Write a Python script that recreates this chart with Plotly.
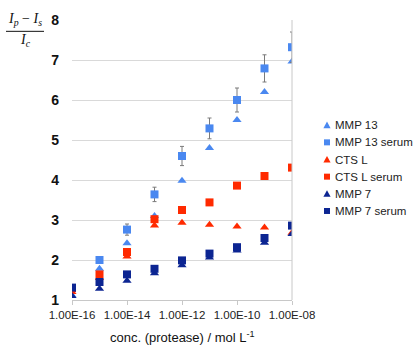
import plotly.graph_objects as go

conc = [1e-16, 1e-15, 1e-14, 1e-13, 1e-12, 1e-11, 1e-10, 1e-9, 1e-8]

mmp13 = [1.12, 1.78, 2.42, 3.10, 3.98, 4.80, 5.50, 6.20, 6.96]
mmp13_serum = [1.30, 2.00, 2.76, 3.64, 4.60, 5.29, 6.00, 6.79, 7.32]
mmp13_serum_err = [0.04, 0.06, 0.14, 0.18, 0.24, 0.26, 0.30, 0.34, 0.38]
ctsl = [1.20, 1.55, 2.09, 2.86, 2.93, 2.88, 2.84, 2.81, 2.68]
ctsl_serum = [1.30, 1.64, 2.20, 3.02, 3.25, 3.44, 3.86, 4.10, 4.31]
mmp7 = [1.10, 1.28, 1.48, 1.67, 1.87, 2.06, 2.24, 2.43, 2.65]
mmp7_serum = [1.31, 1.45, 1.64, 1.78, 1.99, 2.16, 2.32, 2.55, 2.86]

series_names = ["MMP 13", "MMP 13 serum", "CTS L", "CTS L serum", "MMP 7", "MMP 7 serum"]

tick_vals = [1e-16, 1e-14, 1e-12, 1e-10, 1e-8]
tick_text = ["1.00E-16", "1.00E-14", "1.00E-12", "1.00E-10", "1.00E-08"]
y_ticks = [1, 2, 3, 4, 5, 6, 7, 8]

LB = "#4a88f0"
RED = "#ff2a00"
NAVY = "#0c2592"

styles = [(LB, "triangle-up"), (LB, "square"), (RED, "triangle-up"),
          (RED, "square"), (NAVY, "triangle-up"), (NAVY, "square")]
values = [mmp13, mmp13_serum, ctsl, ctsl_serum, mmp7, mmp7_serum]
errors = [None, mmp13_serum_err, None, None, None, None]

fig = go.Figure()
for name, y, (color, symbol), err in zip(series_names, values, styles, errors):
    kw = {}
    if err is not None:
        kw["error_y"] = dict(type="data", array=err, visible=True, color="#7a7a7a",
                             thickness=1, width=2)
    fig.add_trace(go.Scatter(x=conc, y=y, name=name, mode="markers",
                             marker=dict(color=color, symbol=symbol, size=8,
                                         line=dict(width=0)), **kw))

# manual legend (tighter row spacing than plotly's built-in legend)
PLOT_L, PLOT_W, PLOT_B, PLOT_H = 72, 220, 300, 284
def px_x(p):
    return (p - PLOT_L) / PLOT_W
def px_y(p):
    return (PLOT_B - p) / PLOT_H

shapes = [dict(type="line", xref="paper", yref="paper", x0=1, x1=1, y0=0, y1=1,
               line=dict(color="#c8c8c8", width=1)),
          dict(type="line", xref="paper", yref="paper", x0=px_x(6), x1=px_x(44),
               y0=px_y(27.5), y1=px_y(27.5), line=dict(color="#111", width=1))]
annotations = [
    dict(text="conc. (protease) / mol L<sup>-1</sup>", xref="paper", yref="paper",
         x=0.5, y=px_y(338), xanchor="center", yanchor="middle", showarrow=False,
         font=dict(size=13, color="#111")),
    dict(text="<i>I</i><sub><i>p</i></sub> − <i>I</i><sub><i>s</i></sub>", xref="paper", yref="paper",
         x=px_x(25), y=px_y(15), xanchor="center", yanchor="middle", showarrow=False,
         font=dict(size=14, color="#111", family="Liberation Serif, Times New Roman, serif")),
    dict(text="<i>I</i><sub><i>c</i></sub>", xref="paper", yref="paper",
         x=px_x(25), y=px_y(37), xanchor="center", yanchor="middle", showarrow=False,
         font=dict(size=14, color="#111", family="Liberation Serif, Times New Roman, serif")),
]

for i, (name, (color, symbol)) in enumerate(zip(series_names, styles)):
    yc = 122.7 + 17.4 * i
    if symbol == "square":
        shapes.append(dict(type="rect", xref="paper", yref="paper",
                           xsizemode="pixel", ysizemode="pixel",
                           xanchor=px_x(327), yanchor=px_y(yc),
                           x0=-3, x1=3, y0=-3, y1=3,
                           fillcolor=color, line=dict(width=0)))
    else:
        shapes.append(dict(type="path", xref="paper", yref="paper",
                           xsizemode="pixel", ysizemode="pixel",
                           xanchor=px_x(327), yanchor=px_y(yc),
                           path="M-3.6,-3 L3.6,-3 L0,3.6 Z",
                           fillcolor=color, line=dict(width=0)))
    annotations.append(dict(text=name, xref="paper", yref="paper",
                            x=px_x(333), y=px_y(yc), xanchor="left", yanchor="middle",
                            showarrow=False, font=dict(size=11.5, color="#222")))

fig.update_layout(
    width=420, height=352,
    margin=dict(l=72, r=128, t=16, b=52),
    paper_bgcolor="white", plot_bgcolor="white",
    font=dict(family="Liberation Sans, Arial, sans-serif", color="#111"),
    showlegend=False,
    xaxis=dict(type="log", range=[-16, -8], tickvals=tick_vals, ticktext=tick_text,
               showgrid=False, showline=True, linecolor="#c8c8c8", linewidth=1,
               ticks="outside", ticklen=4, tickcolor="#c8c8c8",
               tickfont=dict(size=11.5, color="#222"), zeroline=False),
    yaxis=dict(range=[1, 8], tickvals=y_ticks, showgrid=True, gridcolor="#d9d9d9",
               gridwidth=1, showline=False, zeroline=False,
               tickfont=dict(size=14, color="#111", weight="bold",
                             family="Liberation Sans, Arial, sans-serif"),
               ticklabelstandoff=12),
    shapes=shapes,
    annotations=annotations,
)

fig.write_html("out.html")
